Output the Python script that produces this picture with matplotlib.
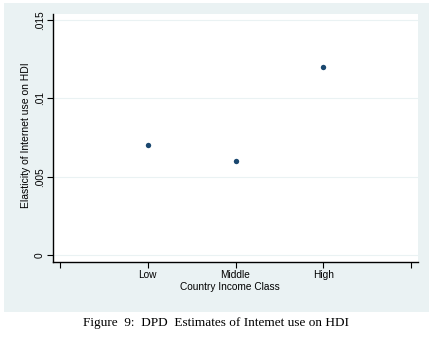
import matplotlib
matplotlib.use("Agg")
import matplotlib.pyplot as plt
from matplotlib.patches import Rectangle

# data
classes = ["Low", "Middle", "High"]
class_pos = [1, 2, 3]
elasticity = [0.007, 0.006, 0.012]
ytick_vals = [0, 0.005, 0.01, 0.015]
ytick_labels = ["0", ".005", ".01", ".015"]

W, H = 432, 339
bg = "#EAF2F3"
navy = "#1A476F"

fig = plt.figure(figsize=(W / 100, H / 100), dpi=100)
fig.patch.set_facecolor("white")
plt.rcParams["font.family"] = ["Liberation Sans", "DejaVu Sans"]

# stata style graph region
fig.add_artist(Rectangle((4 / W, 1 - 312 / H), (429 - 4) / W, (312 - 3) / H,
                         transform=fig.transFigure, facecolor=bg,
                         edgecolor="none", zorder=-5))

ax = fig.add_axes([53 / W, 1 - 262 / H, (418 - 53) / W, (262 - 14) / H])
ax.set_zorder(2)
ax.set_facecolor("white")

ax.scatter(class_pos, elasticity, s=15, color=navy, zorder=3, linewidths=0)

ax.set_xlim(-0.08, 4.08)
ax.set_ylim(-0.00045, 0.0154)

ax.set_xticks([0] + class_pos + [4])
ax.set_xticklabels([""] + classes + [""], fontsize=7.3)
ax.set_yticks(ytick_vals)
ax.set_yticklabels(ytick_labels, fontsize=7.3, rotation=90, va="center")
ax.tick_params(axis="both", length=4, width=0.8, color="black", pad=2)
ax.tick_params(axis="x", pad=1.5)

for v in ytick_vals:
    ax.axhline(v, color=bg, linewidth=0.8, zorder=1)

for s in ["top", "right"]:
    ax.spines[s].set_visible(False)
for s in ["left", "bottom"]:
    ax.spines[s].set_linewidth(1.0)

ax.set_xlabel("Country Income Class", fontsize=7.3)
ax.set_ylabel("Elasticity of Internet use on HDI", fontsize=7.5)
ax.xaxis.set_label_coords(0.485, -0.102, transform=ax.transAxes)
ax.xaxis.label.set_va("center")
ax.yaxis.set_label_coords(-0.075, 0.51, transform=ax.transAxes)
ax.yaxis.label.set_va("center")

fig.text(216 / W, 1 - 323 / H, "Figure  9:  DPD  Estimates of Intemet use on HDI",
         family=["Liberation Serif", "DejaVu Serif"], fontsize=9.5,
         ha="center", va="center")

fig.savefig("out.png", dpi=100)
